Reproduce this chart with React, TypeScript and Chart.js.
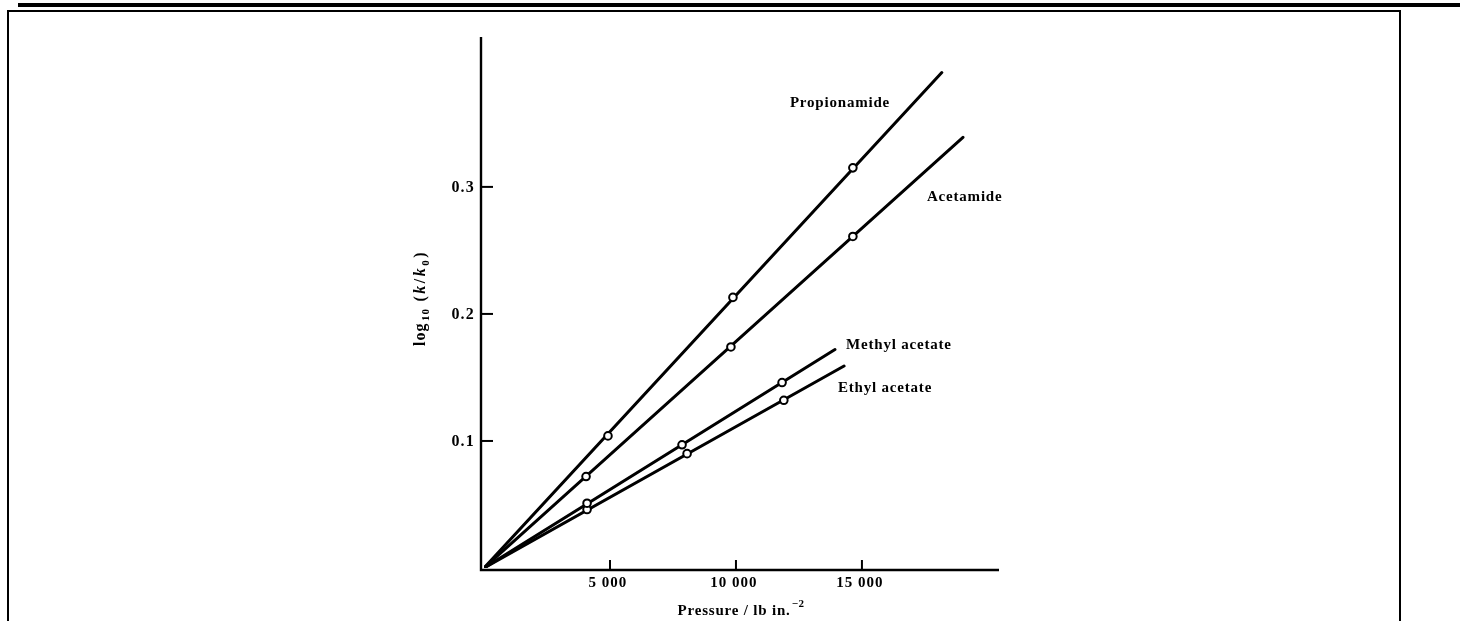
import { useEffect, useRef } from "react";
import { Chart, registerables } from "chart.js";

Chart.register(...registerables);

// ---- data ----
const seriesNames = ["Propionamide", "Acetamide", "Methyl acetate", "Ethyl acetate"];

const propionamideX = [4920, 9880, 14640];
const propionamideY = [0.104, 0.213, 0.315];
const acetamideX = [4050, 9800, 14640];
const acetamideY = [0.072, 0.174, 0.261];
const methylAcetateX = [4090, 7860, 11830];
const methylAcetateY = [0.051, 0.097, 0.146];
const ethylAcetateX = [4090, 8060, 11900];
const ethylAcetateY = [0.046, 0.09, 0.132];

// fitted straight lines run from the origin to these end values
const lineEndX = [18170, 19010, 13930, 14290];
const lineEndY = [0.39, 0.339, 0.172, 0.159];

// where each curve's name sits (data units, left edge / middle)
const labelAnchorX = [12140, 17580, 14370, 14050];
const labelAnchorY = [0.366, 0.292, 0.1756, 0.1417];

const xTickValues = [5000, 10000, 15000];
const xTickLabels = ["5 000", "10 000", "15 000"];
const yTickValues = [0.1, 0.2, 0.3];
const yTickLabels = ["0.1", "0.2", "0.3"];

const X_MAX = 20440;
const Y_MAX = 0.418;

const W = 1460;
const H = 621;
const SERIF = "'Liberation Serif', 'DejaVu Serif', serif";

export default function App() {
  const ref = useRef<HTMLCanvasElement>(null);

  useEffect(() => {
    document.body.style.margin = "0";
    const canvas = ref.current;
    if (!canvas) return;

    const xsAll = [propionamideX, acetamideX, methylAcetateX, ethylAcetateX];
    const ysAll = [propionamideY, acetamideY, methylAcetateY, ethylAcetateY];

    const datasets: any[] = [];
    seriesNames.forEach((name, i) => {
      datasets.push({
        type: "line",
        label: name + " fit",
        data: [
          { x: 0, y: 0 },
          { x: lineEndX[i], y: lineEndY[i] },
        ],
        borderColor: "#000",
        borderWidth: 3,
        pointRadius: 0,
        fill: false,
        tension: 0,
        borderCapStyle: "round",
        order: 2,
      });
      datasets.push({
        type: "scatter",
        label: name,
        data: xsAll[i].map((x, j) => ({ x, y: ysAll[i][j] })),
        pointRadius: 3.8,
        pointBackgroundColor: "#fff",
        pointBorderColor: "#000",
        pointBorderWidth: 2,
        showLine: false,
        order: 1,
      });
    });

    const setFont = (ctx: any, f: string, spacing: number) => {
      ctx.font = f;
      try {
        ctx.letterSpacing = spacing + "px";
      } catch (e) {
        /* ignore */
      }
    };

    const decor = {
      id: "decor",
      beforeDraw(chart: any) {
        const ctx = chart.ctx;
        ctx.save();
        ctx.fillStyle = "#fff";
        ctx.fillRect(0, 0, W, H);
        ctx.fillStyle = "#000";
        // top heavy rule
        ctx.fillRect(18, 3, W - 18, 4);
        // frame
        ctx.fillRect(7, 10, 1394, 2);
        ctx.fillRect(7, 10, 2, H - 10);
        ctx.fillRect(1399, 10, 2, H - 10);
        ctx.restore();
      },
      beforeDatasetsDraw(chart: any) {
        const ctx = chart.ctx;
        const xs = chart.scales.x;
        const ys = chart.scales.y;
        const x0 = xs.getPixelForValue(0);
        const y0 = ys.getPixelForValue(0);
        const xEnd = xs.getPixelForValue(X_MAX);
        const yTop = ys.getPixelForValue(Y_MAX);
        ctx.save();
        ctx.strokeStyle = "#000";
        ctx.lineWidth = 2.4;
        ctx.lineCap = "butt";
        ctx.beginPath();
        ctx.moveTo(x0 - 3, yTop);
        ctx.lineTo(x0 - 3, y0 + 2);
        ctx.lineTo(xEnd, y0 + 2);
        ctx.stroke();

        ctx.lineWidth = 2;
        ctx.fillStyle = "#000";
        setFont(ctx, "bold 16px " + SERIF, 1.2);
        // y ticks (inward)
        ctx.textAlign = "right";
        ctx.textBaseline = "middle";
        yTickValues.forEach((v, i) => {
          const py = ys.getPixelForValue(v);
          ctx.beginPath();
          ctx.moveTo(x0 - 3, py);
          ctx.lineTo(x0 + 9, py);
          ctx.stroke();
          ctx.fillText(yTickLabels[i], x0 - 9, py + 1);
        });
        // x ticks (inward)
        ctx.textAlign = "center";
        ctx.textBaseline = "middle";
        setFont(ctx, "bold 15px " + SERIF, 1);
        xTickValues.forEach((v, i) => {
          const px = xs.getPixelForValue(v);
          ctx.beginPath();
          ctx.moveTo(px, y0 + 2);
          ctx.lineTo(px, y0 - 8);
          ctx.stroke();
          ctx.fillText(xTickLabels[i], px - 2, y0 + 15);
        });

        // x title: Pressure / lb in.^-2
        const main = "Pressure / lb in.";
        const sup = "\u22122";
        setFont(ctx, "bold 15px " + SERIF, 0.8);
        const wMain = ctx.measureText(main).width;
        setFont(ctx, "bold 11px " + SERIF, 0.5);
        const wSup = ctx.measureText(sup).width;
        const total = wMain + 1 + wSup;
        const cx = xs.getPixelForValue(10200);
        const sx = cx - total / 2;
        ctx.textAlign = "left";
        ctx.textBaseline = "alphabetic";
        setFont(ctx, "bold 15px " + SERIF, 0.8);
        ctx.fillText(main, sx, y0 + 47);
        setFont(ctx, "bold 11px " + SERIF, 0.5);
        ctx.fillText(sup, sx + wMain + 1, y0 + 39);

        // y title: log10 (k/k0), rotated
        const parts: { t: string; f: string; dy: number }[] = [
          { t: "log", f: "bold 16px " + SERIF, dy: 0 },
          { t: "10", f: "bold 11px " + SERIF, dy: 4 },
          { t: " (", f: "bold 16px " + SERIF, dy: 0 },
          { t: "k", f: "italic bold 16px " + SERIF, dy: 0 },
          { t: "/", f: "bold 16px " + SERIF, dy: 0 },
          { t: "k", f: "italic bold 16px " + SERIF, dy: 0 },
          { t: "0", f: "bold 11px " + SERIF, dy: 4 },
          { t: ")", f: "bold 16px " + SERIF, dy: 0 },
        ];
        let tw = 0;
        const widths = parts.map((p) => {
          setFont(ctx, p.f, 1);
          const w = ctx.measureText(p.t).width + 1.5;
          tw += w;
          return w;
        });
        ctx.translate(425, 298);
        ctx.rotate(-Math.PI / 2);
        let px = -tw / 2;
        parts.forEach((p, i) => {
          setFont(ctx, p.f, 1);
          ctx.fillText(p.t, px, p.dy);
          px += widths[i];
        });
        ctx.restore();
      },
      afterDatasetsDraw(chart: any) {
        const ctx = chart.ctx;
        const xs = chart.scales.x;
        const ys = chart.scales.y;
        ctx.save();
        ctx.fillStyle = "#000";
        setFont(ctx, "bold 15px " + SERIF, 0.8);
        ctx.textAlign = "left";
        ctx.textBaseline = "middle";
        seriesNames.forEach((name, i) => {
          ctx.fillText(
            name,
            xs.getPixelForValue(labelAnchorX[i]),
            ys.getPixelForValue(labelAnchorY[i])
          );
        });
        ctx.restore();
      },
    };

    const chart = new Chart(canvas, {
      type: "scatter",
      data: { datasets },
      options: {
        responsive: false,
        animation: false,
        devicePixelRatio: 1,
        layout: { padding: { left: 484, right: W - 999, top: 37, bottom: H - 568 } },
        scales: {
          x: { type: "linear", min: 0, max: X_MAX, display: false },
          y: { type: "linear", min: 0, max: Y_MAX, display: false },
        },
        plugins: {
          legend: { display: false },
          tooltip: { enabled: false },
        },
      },
      plugins: [decor],
    } as any);

    return () => chart.destroy();
  }, []);

  return (
    <div style={{ width: W, height: H, background: "#fff" }}>
      <canvas ref={ref} width={W} height={H} style={{ display: "block", width: W, height: H }} />
    </div>
  );
}
